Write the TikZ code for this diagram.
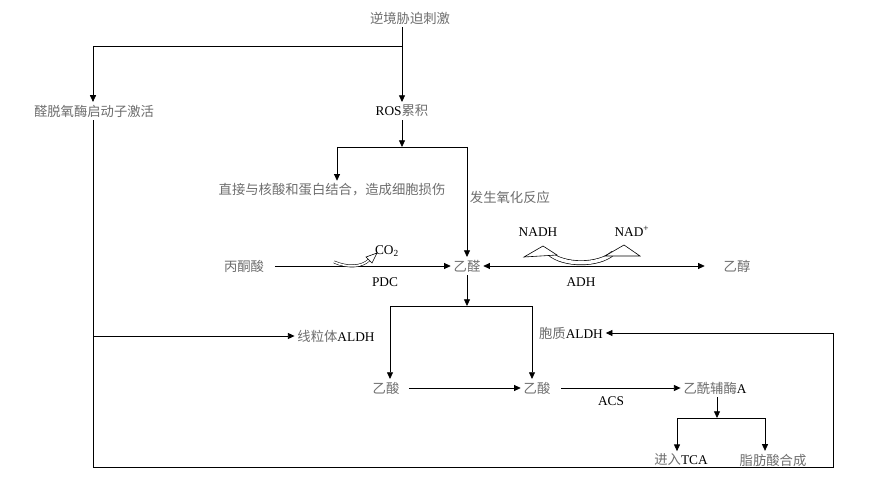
\documentclass[tikz,border=0pt]{standalone}
\usepackage{fontspec}
\setmainfont{Liberation Serif}
\newfontfamily\cjk{Noto Sans CJK SC}
\usetikzlibrary{arrows.meta,calc}
\definecolor{zhgray}{HTML}{6E6E6E}
\newcommand{\zh}[1]{{\cjk\color{zhgray}#1}}
\begin{document}
\begin{tikzpicture}[x=0.75pt,y=-0.75pt,
  lbl/.style={inner sep=2pt, font=\fontsize{10}{12}\selectfont},
  conn/.style={line width=0.6pt, draw=black},
  arr/.style={conn, -{Triangle[length=5pt,width=4.5pt]}},
  darr/.style={conn, {Triangle[length=5pt,width=4.5pt]}-{Triangle[length=5pt,width=4.5pt]}},
  hollow/.style={line width=0.45pt, draw=black, fill=white}]
\fill[white] (0,0) rectangle (892,477);
\useasboundingbox (0,0) rectangle (892,477);

% nodes
\node[lbl] (stress) at (410,18) {\zh{逆境胁迫刺激}};
\node[lbl] (prom) at (94,111) {\zh{醛脱氧酶启动子激活}};
\node[lbl] (ros) at (402,111) {ROS\zh{累积}};
\node[lbl] (damage) at (332,190) {\zh{直接与核酸和蛋白结合，造成细胞损伤}};
\node[lbl, anchor=west] (oxid) at (467,197) {\zh{发生氧化反应}};
\node[lbl] (pyr) at (244,266) {\zh{丙酮酸}};
\node[lbl] (ald) at (467,266) {\zh{乙醛}};
\node[lbl] (eth) at (737,266) {\zh{乙醇}};
\node[lbl] (co2) at (387,251) {CO\textsubscript{2}};
\node[lbl] (pdc) at (385,282) {PDC};
\node[lbl] (nadh) at (538,232) {NADH};
\node[lbl] (nadp) at (632,231) {NAD\textsuperscript{+}};
\node[lbl] (adh) at (581,282) {ADH};
\node[lbl] (mito) at (336,336) {\zh{线粒体}ALDH};
\node[lbl] (cyto) at (571,333) {\zh{胞质}ALDH};
\node[lbl] (ac1) at (386,388) {\zh{乙酸}};
\node[lbl] (ac2) at (537,388) {\zh{乙酸}};
\node[lbl] (acs) at (611,401) {ACS};
\node[lbl] (acoa) at (715,388) {\zh{乙酰辅酶}A};
\node[lbl] (tca) at (681,460) {\zh{进入}TCA};
\node[lbl] (fat) at (773,460) {\zh{脂肪酸合成}};

% branch coordinates
\coordinate (b1) at (402,46);
\coordinate (b2) at (402,147);
\coordinate (b2l) at (337,147);
\coordinate (b2r) at (467,147);
\coordinate (b3) at (467,306);
\coordinate (b3l) at (390,306);
\coordinate (b3r) at (532,306);
\coordinate (b4) at (717,418);
\coordinate (b4l) at (677,418);
\coordinate (b4r) at (765,418);
\coordinate (l1) at (93,336);
\coordinate (l2) at (93,467);
\coordinate (l3) at (833,467);
\coordinate (l4) at (833,333);

% top
\draw[arr] (stress.south -| ros.north) -- (ros.north);
\draw[arr] (b1) -| (prom.north -| l1);
\draw[arr] (ros.south) -- (b2);
\draw[conn] (b2l) -- (b2r);
\draw[arr] (b2l) -- (damage.north -| b2l);
\draw[arr] (b2r) -- (ald.north);

% pyruvate -> acetaldehyde <-> ethanol
\draw[arr, shorten <=6pt] (pyr.east) -- (ald.west);
\draw[darr, shorten >=12pt] (ald.east) -- (eth.west);

% hollow CO2 arrow
\draw[line width=0.4pt, double=white, double distance=1.3pt] (334,262) .. controls (348,268) and (362,267) .. (369,260);
\draw[hollow] (366,257) -- (377,253) -- (372,263) -- cycle;

% hollow NADH/NAD+ arrow
\draw[line width=0.5pt, double=white, double distance=2.6pt] (549,253) .. controls (563,266) and (599,266) .. (613,253);
\draw[hollow] (524,257) -- (543,246) -- (557,255) -- cycle;
\draw[hollow] (605,256) -- (624,245) -- (640,256) -- cycle;

% acetaldehyde -> acetic acid
\draw[arr] (ald.south) -- (b3);
\draw[conn] (b3l) -- (b3r);
\draw[arr] (b3l) -- (ac1.north -| b3l);
\draw[arr] (b3r) -- (ac2.north -| b3r);

% promoter loop
\draw[conn] (prom.south -| l1) -- (l2) -- (l3) -- (l4);
\draw[arr] (l4) -- (cyto.east);
\draw[arr] (l1) -- (mito.west);

% bottom chain
\draw[arr, shorten <=5pt] (ac1.east) -- (ac2.west);
\draw[arr, shorten <=6pt] (ac2.east) -- (acoa.west);
\draw[arr] (acoa.south -| b4) -- (b4);
\draw[conn] (b4l) -- (b4r);
\draw[arr] (b4l) -- (tca.north -| b4l);
\draw[arr] (b4r) -- (fat.north -| b4r);
\end{tikzpicture}
\end{document}
